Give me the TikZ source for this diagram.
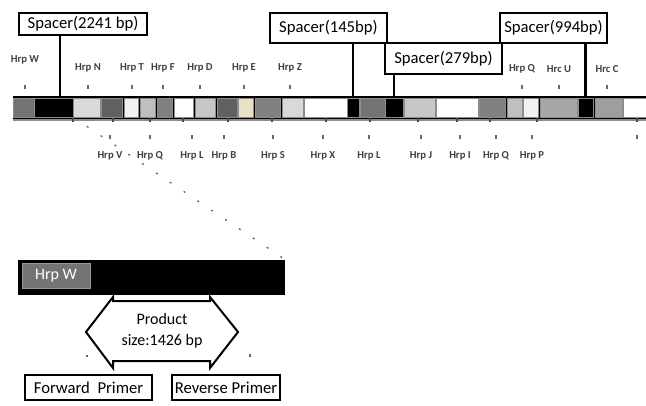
\documentclass[tikz,border=0pt]{standalone}
\usepackage{fontspec}
\setmainfont{Carlito}
\usetikzlibrary{positioning}
\definecolor{cream}{RGB}{233,225,196}

\begin{document}
\begin{tikzpicture}[
  x=0.75pt, y=-0.75pt,
  seg/.style={rectangle, draw=black!45, line width=0.5pt, inner sep=0pt, outer sep=0pt, minimum height=14.25pt},
  spacer/.style={rectangle, draw, line width=1.4pt, fill=white, inner sep=0pt, font=\fontsize{12.5}{14}\selectfont},
  spline/.style={line width=2.2pt},
  gene/.style={font=\fontsize{8}{9}\selectfont\bfseries, text=black!75, inner sep=1pt},
  tick/.style={black!60, line width=1pt},
  primer/.style={rectangle, draw, line width=1.4pt, fill=white, minimum height=18.75pt, inner sep=0pt, font=\fontsize{12.5}{14}\selectfont}
]
  \useasboundingbox (0,0) rectangle (646,405);

  \fill (13,96) rectangle (646,119);
  \foreach \a/\b/\c [count=\i] in {13/34/black!55, 34/73/black, 73/100/black!15, 101/122/black!62,
      124/138/black!5, 140/155/black!25, 157/172/black!50, 174/193/white, 195/215/black!22,
      217/237/black!62, 238/253/cream, 255/280/black!50, 282/303/black!15, 304/347/white,
      347/359/black, 360/385/black!55, 385/403/black, 404/435/black!22, 436/478/white,
      479/505/black!50, 507/522/black!25, 523/538/black!5, 540/577/black!35, 578/593/black,
      595/622/black!38, 623/646/white}{
    \pgfmathsetmacro\w{(\b-\a)*0.75}
    \node[seg, fill=\c, minimum width=\w pt] (seg\i) at ({(\a+\b)/2},107.5) {};
  }
  \draw[black!45, line width=1.5pt] (13,120) -- (646,120);
  \foreach \x in {73,113,150,183,228,272,326,370,418,457,490,537,637}
    \draw[black!70, line width=1pt] (\x,118) -- (\x,122);

  \node[spacer, minimum width=96pt, minimum height=16.5pt] (sp1) at (83,24) {Spacer(2241 bp)};
  \node[spacer, minimum width=87.75pt, minimum height=22.5pt] (sp2) at (328.5,28) {Spacer(145bp)};
  \node[spacer, minimum width=87.75pt, minimum height=23pt] (sp3) at (443.5,58.5) {Spacer(279bp)};
  \node[spacer, minimum width=80pt, minimum height=22.5pt] (sp4) at (553.5,28) {Spacer(994bp)};

  \coordinate (c2241) at (60,98);
  \draw[spline] (sp1.south -| c2241) -- (c2241);
  \draw[spline] (sp2.south -| seg15.north) -- (seg15.north);
  \draw[spline] (sp3.south -| seg17.north) -- (seg17.north);
  \draw[spline] (sp4.south -| seg24.north) -- (seg24.north);

  \foreach \g/\x/\y [count=\i] in {Hrp W/25/60, Hrp N/88/68, Hrp T/132/68, Hrp F/163/68,
      Hrp D/200/68, Hrp E/244/68, Hrp Z/290/68, Hrp Q/522/69, Hrc U/559/69, Hrc C/607/69}{
    \node[gene] (t\i) at (\x,\y) {\g};
    \draw[tick] (\x,85) -- (\x,89);
  }
  \foreach \g/\x [count=\i] in {Hrp V/110, Hrp Q/150, Hrp L/192, Hrp B/224, Hrp S/273,
      Hrp X/323, Hrp L/369, Hrp J/421, Hrp I/460, Hrp Q/496, Hrp P/532}{
    \node[gene] (b\i) at (\x,156) {\g};
    \draw[tick] (\x,135) -- (\x,139);
  }
  \draw[tick] (637,135) -- (637,139);

  \node[rectangle, fill=black, minimum width=200.25pt, minimum height=26.25pt, inner sep=0pt] (zbar) at (151.5,277.5) {};
  \node[rectangle, fill=black!55, draw=black!40, minimum width=51pt, minimum height=18.75pt, inner sep=0pt,
        text=white, font=\fontsize{12}{14}\selectfont] (hrpw) at (56,275.5) {Hrp W};
  \draw[black!60, line width=1pt, dash pattern=on 1.5pt off 11pt] (seg3.south west) -- (zbar.north east);

  \draw[line width=1.5pt, fill=white] (113,297) -- (113,301) -- (210,301) -- (210,297) -- (238,332)
    -- (210,368) -- (210,361) -- (113,361) -- (113,368) -- (86,332) -- cycle;
  \node[align=center, font=\fontsize{12}{16}\selectfont] (prod) at (162,331) {Product\\size:1426 bp};
  \draw[tick] (87,355) -- (87,357);
  \draw[tick] (250,354) -- (250,357);

  \node[primer, minimum width=95.25pt] (fwd) at (88.5,387.5) {Forward\ \ Primer};
  \node[primer, minimum width=81pt] (rev) at (226,387.5) {Reverse Primer};
\end{tikzpicture}
\end{document}
